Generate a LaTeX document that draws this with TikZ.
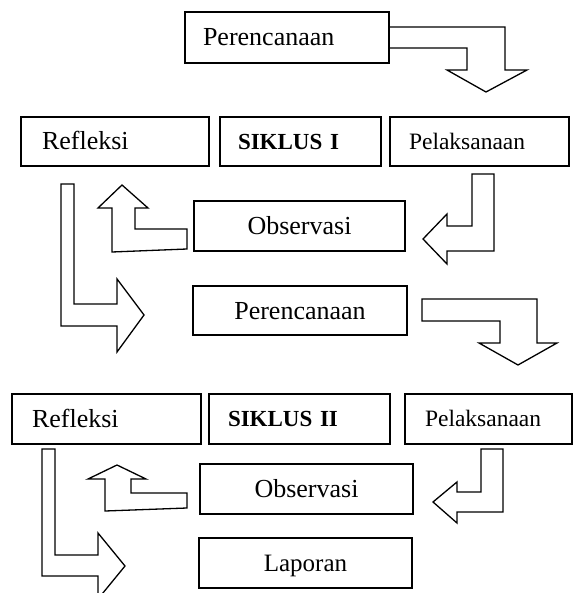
\documentclass[tikz,border=0pt]{standalone}
\usepackage{fontspec}
\setmainfont{Liberation Serif}
\begin{document}
\begin{tikzpicture}[x=1pt,y=-1pt,
  box/.style={draw, line width=1.6pt, fill=white, minimum height=50pt, text height=17pt, text depth=0pt, font=\fontsize{26}{30}\selectfont},
  lbox/.style={box, align=left, inner xsep=#1},
  smallfont/.style={font=\fontsize{23.5}{28}\selectfont, text height=15.5pt},
  boldfont/.style={font=\fontsize{23}{28}\selectfont\bfseries, text height=15.5pt},
  blockarrow/.style={draw, line width=1.3pt, fill=white, line join=miter}]
\useasboundingbox (0,0) rectangle (574,593);
% block arrows
\draw[blockarrow] (389,27) -- (505,27) -- (505,70) -- (527,70) -- (486,92) -- (447,70) -- (467,70) -- (467,48) -- (389,48) -- cycle;
\draw[blockarrow] (494,174) -- (494,251) -- (447,251) -- (447,264) -- (423,239) -- (447,214) -- (447,226) -- (472,226) -- (472,174) -- cycle;
\draw[blockarrow] (187,229) -- (187,249) -- (112,252) -- (112,208) -- (98,208) -- (122,185) -- (148,208) -- (135,208) -- (135,229) -- cycle;
\draw[blockarrow] (61,184) -- (74,184) -- (74,304) -- (117,304) -- (117,279) -- (144,315) -- (117,352) -- (117,326) -- (61,326) -- cycle;
\draw[blockarrow] (422,299) -- (537,299) -- (537,343) -- (557,343) -- (518,365) -- (479,343) -- (500,343) -- (500,321) -- (422,321) -- cycle;
\draw[blockarrow] (503,449) -- (503,512) -- (457,512) -- (457,523) -- (433,502) -- (457,482) -- (457,492) -- (481,492) -- (481,449) -- cycle;
\draw[blockarrow] (187,493) -- (187,508) -- (105,511) -- (105,479) -- (88,479) -- (117,465) -- (146,479) -- (131,479) -- (131,493) -- cycle;
\draw[blockarrow] (42,449) -- (55,449) -- (55,555) -- (98,555) -- (98,533) -- (125,566) -- (98,599) -- (98,576) -- (42,576) -- cycle;
% boxes
\node[lbox=18pt, minimum width=204pt, text width=168pt, minimum height=51pt] (p1) at (287,37.5) {Perencanaan};
\node[lbox=21pt, minimum width=188pt, text width=146pt, minimum height=49pt] (r1) at (115,141.5) {Refleksi};
\node[lbox=18pt, boldfont, minimum width=161pt, text width=125pt, minimum height=49pt] (s1) at (300.5,141.5) {SIKLUS I};
\node[lbox=19pt, smallfont, minimum width=179pt, text width=141pt, minimum height=49pt] (l1) at (479.5,141.5) {Pelaksanaan};
\node[box, minimum width=211pt] (o1) at (299.5,226) {Observasi};
\node[box, minimum width=214pt, minimum height=49pt] (p2) at (300,310.5) {Perencanaan};
\node[lbox=20pt, minimum width=189pt, text width=149pt] (r2) at (106.5,419) {Refleksi};
\node[lbox=19pt, boldfont, minimum width=181pt, text width=143pt] (s2) at (299.5,419) {SIKLUS II};
\node[lbox=20pt, smallfont, minimum width=167pt, text width=127pt] (l2) at (488.5,419) {Pelaksanaan};
\node[box, minimum width=213pt] (o2) at (306.5,489) {Observasi};
\node[box, minimum width=213pt, font=\fontsize{25}{30}\selectfont] (lap) at (305.5,563) {Laporan};
\end{tikzpicture}
\end{document}
